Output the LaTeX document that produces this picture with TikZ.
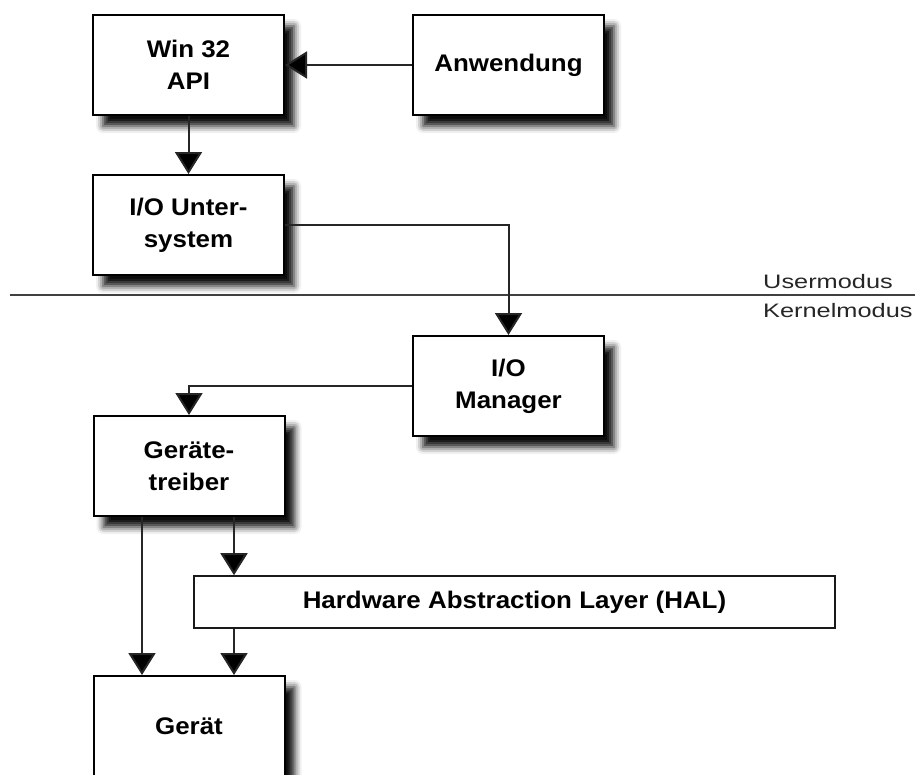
\documentclass[tikz,border=0pt]{standalone}
\usepackage{fontspec}
\newfontfamily\labelfont[FakeStretch=1.08]{Liberation Sans}
\newfontfamily\modefont[FakeStretch=1.3]{Liberation Sans}
\usetikzlibrary{arrows.meta,shadows.blur,calc}

\tikzset{
  box/.style={draw=black, line width=2pt, fill=white,
    minimum width=191, minimum height=100, align=center, inner sep=2pt,
    font=\labelfont\bfseries\fontsize{24}{32}\selectfont,
    blur shadow={shadow xshift=10pt, shadow yshift=-11pt,
      shadow blur radius=7pt, shadow opacity=95}},
  layerbox/.style={draw=black!90, line width=1.6pt, fill=white,
    minimum width=641, minimum height=52, inner sep=2pt,
    font=\labelfont\bfseries\fontsize{24}{32}\selectfont},
  conn/.style={draw=black!85, line width=2pt,
    -{Triangle[length=22pt,width=27pt,fill=black]}},
  modelabel/.style={inner sep=0pt, text=black!85,
    font=\modefont\fontsize{19.5}{22}\selectfont},
  separator/.style={draw=black!75, line width=2pt}
}

\begin{document}
\begin{tikzpicture}[x=1pt,y=-1pt]
  \clip (0,0) rectangle (915,774);
  \useasboundingbox (0,0) rectangle (915,774);

  % user-mode components
  \node[box] (api) at (188.5,65) {Win 32\\API};
  \node[box] (app) at (508.5,65) {Anwendung};
  \node[box] (iosub) at (188.5,225) {I/O Unter-\\system};

  % boundary between user and kernel mode
  \coordinate (sepL) at (10,295);
  \coordinate (sepR) at (915,295);
  \draw[separator] (sepL) -- (sepR);
  \node[modelabel, anchor=base west] (umode) at (763,288) {Usermodus};
  \node[modelabel, anchor=base west] (kmode) at (763,317) {Kernelmodus};

  % kernel-mode components
  \node[box] (iomgr) at (508.5,386) {I/O\\Manager};
  \node[box] (driver) at (189,466) {Geräte-\\treiber};
  \node[layerbox] (hal) at (514.5,602) {Hardware Abstraction Layer (HAL)};
  \node[box] (device) at (189,726) {Gerät};

  % connectors
  \draw[conn] (app.west) -- (api.east);
  \draw[conn] (api.south) -- (iosub.north);
  \draw[conn] (iosub.east) -| (iomgr.north);
  \draw[conn] (iomgr.west) -| (driver.north);
  \draw[conn] ([xshift=-47pt]driver.south) -- ([xshift=-47pt]device.north);
  \draw[conn] ([xshift=45pt]driver.south) -- ([xshift=45pt]driver.south |- hal.north);
  \draw[conn] ([xshift=45pt]device.north |- hal.south) -- ([xshift=45pt]device.north);
\end{tikzpicture}
\end{document}
